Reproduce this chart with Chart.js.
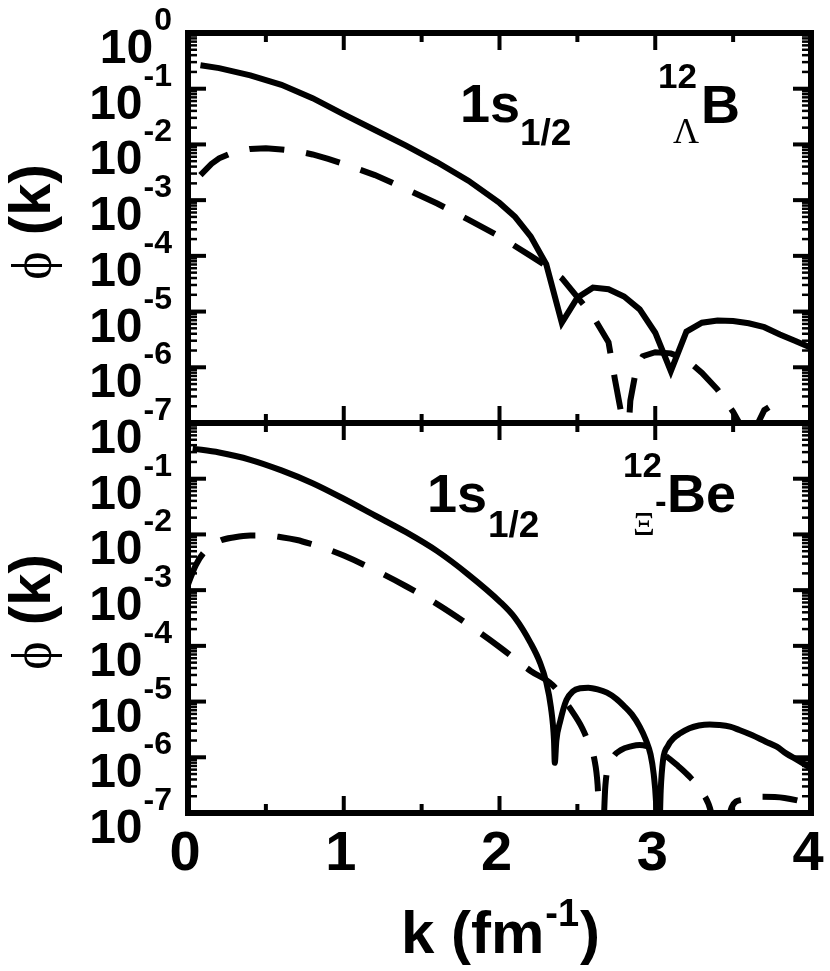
<!DOCTYPE html>
<html>
<head>
<meta charset="utf-8">
<script src="https://cdn.jsdelivr.net/npm/chart.js@4.4.1/dist/chart.umd.min.js"></script>
<style>
  body { margin: 0; background: #fff; }
  .wrap { position: relative; width: 830px; height: 971px; background: #fff; }
  canvas { position: absolute; left: 0; top: 0; }
</style>
</head>
<body>
<div class="wrap">
  <canvas id="topChart" width="830" height="971"></canvas>
  <canvas id="bottomChart" width="830" height="971"></canvas>
</div>
<script>
// k in fm^-1, values given as log10(phi); -8 marks a node below the axis
var kTopSolid = [0.08, 0.2, 0.4, 0.6, 0.8, 1.0, 1.2, 1.4, 1.6, 1.8, 2.0, 2.1, 2.2, 2.3, 2.4, 2.5, 2.6, 2.7, 2.8, 2.9, 3.0, 3.1, 3.2, 3.3, 3.4, 3.5, 3.6, 3.7, 3.8, 3.9, 4.0];
var logTopSolid = [-0.58, -0.63, -0.76, -0.93, -1.17, -1.46, -1.74, -2.02, -2.32, -2.65, -3.05, -3.3, -3.65, -4.15, -5.2, -4.75, -4.57, -4.6, -4.73, -4.96, -5.38, -6.07, -5.36, -5.2, -5.16, -5.17, -5.21, -5.28, -5.41, -5.53, -5.65];

var kTopDash = [0.08, 0.15, 0.2, 0.3, 0.4, 0.5, 0.6, 0.7, 0.8, 0.9, 1.0, 1.2, 1.4, 1.6, 1.8, 2.0, 2.2, 2.3, 2.4, 2.5, 2.6, 2.7, 2.74, 2.78, 2.81, 2.84, 2.88, 2.92, 3.0, 3.1, 3.2, 3.3, 3.4, 3.5, 3.54, 3.6, 3.66, 3.7, 3.8];
var logTopDash = [-2.55, -2.35, -2.25, -2.13, -2.08, -2.07, -2.09, -2.12, -2.18, -2.26, -2.35, -2.55, -2.8, -3.06, -3.35, -3.65, -4.0, -4.18, -4.4, -4.74, -5.08, -5.55, -6.2, -6.8, -8, -6.6, -6.0, -5.8, -5.73, -5.75, -5.86, -6.1, -6.4, -6.8, -7.0, -8, -7.0, -6.77, -6.59];

var kBotSolid = [0.03, 0.2, 0.4, 0.6, 0.8, 1.0, 1.2, 1.4, 1.6, 1.8, 2.0, 2.1, 2.2, 2.26, 2.3, 2.33, 2.35, 2.355, 2.365, 2.39, 2.43, 2.47, 2.52, 2.57, 2.63, 2.69, 2.75, 2.8, 2.85, 2.9, 2.94, 2.97, 2.99, 3.005, 3.02, 3.035, 3.05, 3.08, 3.12, 3.16, 3.22, 3.28, 3.35, 3.41, 3.48, 3.54, 3.62, 3.71, 3.78, 3.84, 3.92, 4.0];
var logBotSolid = [-0.46, -0.53, -0.66, -0.85, -1.08, -1.36, -1.66, -1.96, -2.3, -2.72, -3.2, -3.5, -3.95, -4.3, -4.65, -5.1, -5.7, -6.1, -5.7, -5.35, -4.97, -4.82, -4.76, -4.75, -4.78, -4.84, -4.95, -5.08, -5.23, -5.45, -5.69, -5.95, -6.3, -6.8, -8, -6.6, -6.05, -5.8, -5.65, -5.57, -5.48, -5.43, -5.41, -5.42, -5.45, -5.51, -5.6, -5.72, -5.81, -5.93, -6.06, -6.2];

var kBotDash = [0.0, 0.05, 0.1, 0.2, 0.3, 0.4, 0.5, 0.6, 0.7, 0.8, 0.9, 1.0, 1.2, 1.4, 1.6, 1.8, 2.0, 2.2, 2.34, 2.46, 2.53, 2.58, 2.61, 2.63, 2.655, 2.68, 2.72, 2.78, 2.85, 2.9, 2.98, 3.06, 3.14, 3.21, 3.3, 3.36, 3.42, 3.49, 3.56, 3.68, 3.83, 4.0];
var logBotDash = [-2.9, -2.55, -2.33, -2.12, -2.05, -2.02, -2.02, -2.05, -2.1, -2.18, -2.27, -2.38, -2.64, -2.93, -3.25, -3.62, -4.02, -4.45, -4.7, -5.15, -5.47, -5.8, -6.05, -6.5, -8, -6.5, -6.05, -5.87, -5.8, -5.78, -5.83, -5.96, -6.14, -6.32, -6.62, -7.0, -8, -6.9, -6.76, -6.71, -6.73, -6.83];

var kMajorTicks = [0, 1, 2, 3, 4];
var kMinorTicks = [0.5, 1.5, 2.5, 3.5];
var kTickLabels = ['0', '1', '2', '3', '4'];
var phiDecades = [0, -1, -2, -3, -4, -5, -6, -7];

var SANS = '"Liberation Sans", Arial, Helvetica, sans-serif';
var SERIF = '"Liberation Serif", "DejaVu Serif", "Times New Roman", serif';

function points(ks, logs) {
  return ks.map(function (k, i) { return { x: k, y: Math.pow(10, logs[i]) }; });
}

function seg(ctx, x1, y1, x2, y2) {
  ctx.beginPath();
  ctx.moveTo(x1, y1);
  ctx.lineTo(x2, y2);
  ctx.stroke();
}

function text(ctx, s, font, x, y, align) {
  ctx.font = font;
  ctx.textAlign = align || 'left';
  ctx.fillText(s, x, y);
}

var panelDeco = {
  id: 'panelDeco',
  afterDraw: function (chart, args, opts) {
    var ctx = chart.ctx, a = chart.chartArea;
    var xs = chart.scales.x, ys = chart.scales.y;
    ctx.save();
    ctx.strokeStyle = '#000';
    ctx.fillStyle = '#000';
    ctx.lineCap = 'butt';
    ctx.textBaseline = 'alphabetic';

    // inward ticks on x edges
    ctx.lineWidth = 4;
    kMajorTicks.forEach(function (k) {
      var px = xs.getPixelForValue(k);
      seg(ctx, px, a.top, px, a.top + 17);
      seg(ctx, px, a.bottom, px, a.bottom - 17);
    });
    kMinorTicks.forEach(function (k) {
      var px = xs.getPixelForValue(k);
      seg(ctx, px, a.top, px, a.top + 9);
      seg(ctx, px, a.bottom, px, a.bottom - 9);
    });

    // inward ticks on y edges
    phiDecades.forEach(function (d) {
      var py = ys.getPixelForValue(Math.pow(10, d));
      ctx.lineWidth = 4;
      seg(ctx, a.left, py, a.left + 18, py);
      seg(ctx, a.right, py, a.right - 18, py);
      if (d > -7) {
        ctx.lineWidth = 2.5;
        for (var m = 2; m <= 9; m++) {
          var pm = ys.getPixelForValue(m * Math.pow(10, d - 1));
          seg(ctx, a.left, pm, a.left + 9, pm);
          seg(ctx, a.right, pm, a.right - 9, pm);
        }
      }
    });

    // frame
    ctx.lineWidth = 6;
    ctx.strokeRect(a.left, a.top, a.right - a.left, a.bottom - a.top);

    // y tick labels 10^n
    phiDecades.forEach(function (d) {
      if (opts.skipTopLabel && d === 0) return;
      var py = ys.getPixelForValue(Math.pow(10, d));
      var e = String(d);
      ctx.font = 'bold 32px ' + SANS;
      var we = ctx.measureText(e).width;
      var xr = 172;
      text(ctx, e, 'bold 32px ' + SANS, xr - we, py - 3, 'left');
      text(ctx, '10', 'bold 48px ' + SANS, xr - we - 1, py + 30, 'right');
    });

    // y title  phi (k)
    var cy = (a.top + a.bottom) / 2 - 6;
    ctx.save();
    ctx.translate(50, cy);
    ctx.rotate(-Math.PI / 2);
    var fPhi = '54px ' + SERIF, fK = 'bold 58px ' + SANS;
    ctx.font = fPhi;
    var w1 = ctx.measureText('\u03D5').width;
    ctx.font = fK;
    var w2 = ctx.measureText(' (k)').width;
    var x0 = -(w1 + w2) / 2;
    text(ctx, '\u03D5', fPhi, x0, 0, 'left');
    text(ctx, ' (k)', fK, x0 + w1, 0, 'left');
    ctx.restore();

    // panel annotation
    (opts.notes || []).forEach(function (n) {
      text(ctx, n.t, n.f, n.x, n.y, 'left');
    });

    // x axis labels and title
    if (opts.showX) {
      kMajorTicks.forEach(function (k, i) {
        text(ctx, kTickLabels[i], 'bold 56px ' + SANS, xs.getPixelForValue(k) - 3, 870, 'center');
      });
      var fT = 'bold 60px ' + SANS, fS = 'bold 38px ' + SANS;
      ctx.font = fT;
      var wa = ctx.measureText('k (fm').width, wc = ctx.measureText(')').width;
      ctx.font = fS;
      var wb = ctx.measureText('-1').width;
      var xc = (a.left + a.right) / 2;
      var xl = xc - (wa + wb + wc) / 2;
      text(ctx, 'k (fm', fT, xl, 953, 'left');
      text(ctx, '-1', fS, xl + wa + 1, 926, 'left');
      text(ctx, ')', fT, xl + wa + wb + 2, 953, 'left');
    }
    ctx.restore();
  }
};

function makeChart(id, sK, sL, dK, dL, pad, smooth, deco) {
  var base = {
    borderColor: '#000',
    borderWidth: 6,
    pointRadius: 0,
    fill: false,
    clip: 0,
    borderJoinStyle: smooth ? 'round' : 'miter'
  };
  if (smooth) base.cubicInterpolationMode = 'monotone';
  else base.tension = 0;
  return new Chart(document.getElementById(id).getContext('2d'), {
    type: 'line',
    data: {
      datasets: [
        Object.assign({ label: 'solid', data: points(sK, sL) }, base),
        Object.assign({ label: 'dashed', data: points(dK, dL), borderDash: [35, 22] }, base)
      ]
    },
    options: {
      responsive: false,
      animation: false,
      devicePixelRatio: 1,
      layout: { padding: pad },
      plugins: {
        legend: { display: false },
        tooltip: { enabled: false },
        panelDeco: deco
      },
      scales: {
        x: { type: 'linear', min: 0, max: 4, display: false },
        y: { type: 'logarithmic', min: 1e-7, max: 1, display: false }
      }
    },
    plugins: [panelDeco]
  });
}

makeChart('topChart', kTopSolid, logTopSolid, kTopDash, logTopDash,
  { left: 188, right: 19, top: 33, bottom: 548 }, false,
  {
    skipTopLabel: false, showX: false,
    notes: [
      { t: '1s', f: 'bold 54px ' + SANS, x: 460, y: 122 },
      { t: '1/2', f: 'bold 37px ' + SANS, x: 520, y: 145 },
      { t: '12', f: 'bold 35px ' + SANS, x: 658, y: 88 },
      { t: 'B', f: 'bold 54px ' + SANS, x: 701, y: 123 },
      { t: '\u039B', f: '36px ' + SERIF, x: 673, y: 143 }
    ]
  });

makeChart('bottomChart', kBotSolid, logBotSolid, kBotDash, logBotDash,
  { left: 188, right: 19, top: 423, bottom: 158 }, true,
  {
    skipTopLabel: true, showX: true,
    notes: [
      { t: '1s', f: 'bold 54px ' + SANS, x: 427, y: 512 },
      { t: '1/2', f: 'bold 37px ' + SANS, x: 488, y: 537 },
      { t: '12', f: 'bold 35px ' + SANS, x: 623, y: 477 },
      { t: '\u039E', f: '34px ' + SERIF, x: 633, y: 535 },
      { t: '-', f: 'bold 35px ' + SANS, x: 655, y: 513 },
      { t: 'Be', f: 'bold 54px ' + SANS, x: 667, y: 512 }
    ]
  });
</script>
</body>
</html>
